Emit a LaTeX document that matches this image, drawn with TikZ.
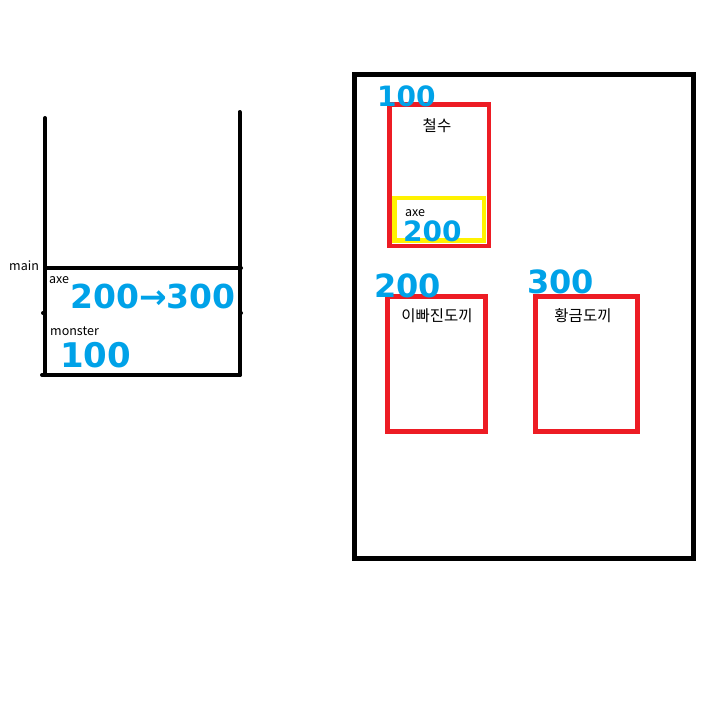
\documentclass[tikz,border=0pt]{standalone}
\usepackage{fontspec}
\setmainfont{Noto Sans CJK KR}
\newfontfamily\scribblefont{DejaVu Sans}
\usepackage{tikz}
\usetikzlibrary{positioning}
\definecolor{paintblue}{RGB}{0,162,232}
\definecolor{paintred}{RGB}{237,28,36}
\definecolor{paintyellow}{RGB}{255,242,0}

\begin{document}
\begin{tikzpicture}[x=1pt, y=-1pt,
  every node/.style={inner sep=0pt, font=\fontsize{12.5}{14}\selectfont},
  stackline/.style={line width=4pt, line cap=round},
  heapbox/.style={line width=4.5pt, paintred},
  scribble/.style={text=paintblue, font=\scribblefont\bfseries\fontsize{#1}{#1}\selectfont},
  hangul/.style={font=\fontsize{15.5}{17}\selectfont}]
\useasboundingbox (0,0) rectangle (715,715);
% stack
\draw[stackline] (45,118) -- (45,375);
\draw[stackline] (239.5,112) -- (239.5,375);
\draw[stackline] (45,268) -- (241,268);
\draw[stackline] (42,375) -- (240,375);
\fill (43,313) circle (2pt) (241,313) circle (2pt);
\node[anchor=base west] (mainlbl) at (9,270) {main};
\node[anchor=base west] (axelbl) at (49,283) {axe};
\node[anchor=base west, scribble=33] (axeval) at (70,308) {200→300};
\node[anchor=base west] (monlbl) at (50,335) {monster};
\node[anchor=base west, scribble=34] (monval) at (60,367) {100};
% heap
\draw[line width=5pt] (354.5,74.5) rectangle (693.5,558.5);
\draw[heapbox] (389.5,104.5) rectangle (489,246);
\draw[line width=4.5pt, paintyellow] (394.5,198) rectangle (484,240.5);
\draw[heapbox] (387.5,296.5) rectangle (485.5,431.5);
\draw[heapbox] (535.5,296.5) rectangle (637.5,431.5);
\node[hangul] (cs) at (437,126) {철수};
\node[anchor=base west] (axe2) at (405,216) {axe};
\node[anchor=base west, scribble=28] (axe2val) at (403,241) {200};
\node[anchor=base west, scribble=28] (csval) at (377,106) {100};
\node[hangul] (oldaxe) at (437,316) {이빠진도끼};
\node[hangul] (goldaxe) at (583,316) {황금도끼};
\node[anchor=base west, scribble=32] (oldval) at (374,297) {200};
\node[anchor=base west, scribble=32] (goldval) at (527,293) {300};
\end{tikzpicture}
\end{document}
